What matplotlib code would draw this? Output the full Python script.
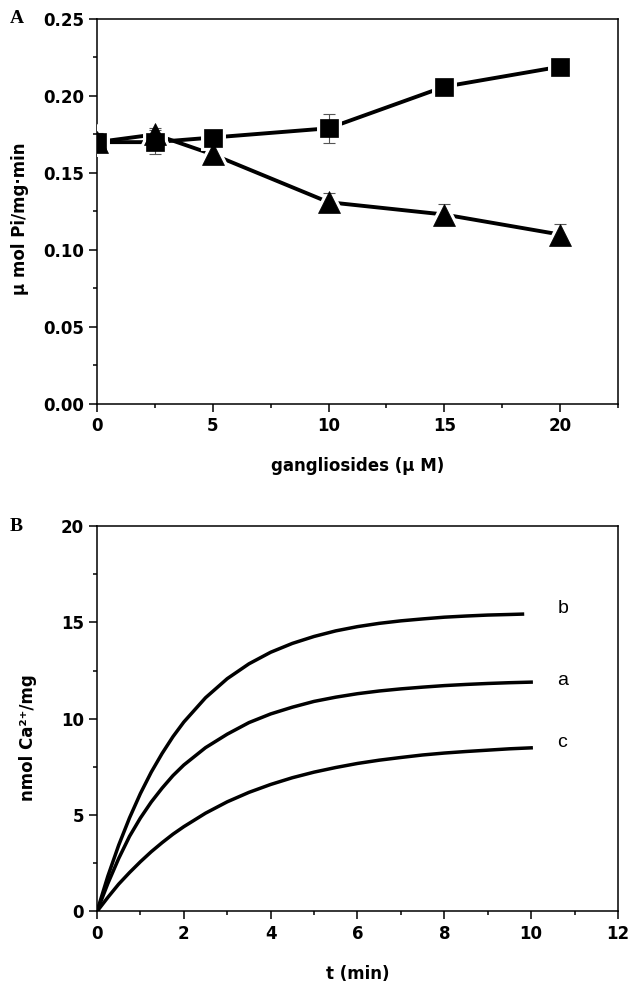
import numpy as np
import matplotlib.pyplot as plt
from matplotlib.ticker import MultipleLocator

plt.rcParams['font.family'] = ['DejaVu Sans']

# panel A: ATPase activity vs ganglioside concentration
conc = [0, 2.5, 5, 10, 15, 20]
sq_vals = [0.170, 0.170, 0.173, 0.179, 0.206, 0.219]
sq_err = [0.006, 0.008, 0.004, 0.0095, 0.003, 0.003]
tri_vals = [0.170, 0.175, 0.162, 0.131, 0.123, 0.110]
tri_err = [0.004, 0.004, 0.006, 0.006, 0.007, 0.007]

# panel B: Ca2+ uptake time courses
t_ac = [0, 0.25, 0.5, 0.75, 1, 1.25, 1.5, 1.75, 2, 2.5, 3, 3.5, 4, 4.5,
        5, 5.5, 6, 6.5, 7, 7.5, 8, 8.5, 9, 9.5, 10]
t_b = [0, 0.25, 0.5, 0.75, 1, 1.25, 1.5, 1.75, 2, 2.5, 3, 3.5, 4, 4.5,
       5, 5.5, 6, 6.5, 7, 7.5, 8, 8.5, 9, 9.5, 9.8]
ca_a = [0, 1.45, 2.75, 3.9, 4.85, 5.68, 6.4, 7.05, 7.6, 8.5, 9.2, 9.8, 10.25, 10.6,
        10.9, 11.12, 11.3, 11.44, 11.55, 11.64, 11.72, 11.78, 11.83, 11.87, 11.9]
ca_b = [0, 1.83, 3.44, 4.86, 6.12, 7.23, 8.20, 9.07, 9.83, 11.09, 12.08, 12.85, 13.45, 13.91,
        14.27, 14.56, 14.78, 14.95, 15.08, 15.18, 15.27, 15.33, 15.38, 15.41, 15.43]
ca_c = [0, 0.73, 1.42, 2.02, 2.58, 3.10, 3.57, 4.01, 4.40, 5.10, 5.69, 6.18, 6.59, 6.94,
        7.23, 7.47, 7.68, 7.85, 7.99, 8.12, 8.22, 8.30, 8.37, 8.44, 8.49]


def style_axes(ax):
    for sp in ax.spines.values():
        sp.set_linewidth(1.1)
    ax.tick_params(which='major', direction='out', length=5.5, width=1.1, pad=4,
                   labelsize=12, top=False, right=False)
    ax.tick_params(which='minor', direction='out', length=3.2, width=1.1,
                   top=False, right=False)
    for lbl in ax.get_xticklabels() + ax.get_yticklabels():
        lbl.set_fontweight('bold')


fig = plt.figure(figsize=(6.31, 9.86), dpi=100)

ax1 = fig.add_axes([0.1537, 0.5903, 0.8257, 0.3905])
ax1.plot(conc, sq_vals, '-', color='black', lw=2.8, zorder=2)
ax1.plot(conc, tri_vals, '-', color='black', lw=2.8, zorder=2)
# white halos first so the connecting lines stop short of the symbols
ax1.plot(conc, sq_vals, 's', ms=12.5, color='white', mec='white', mew=5, zorder=3)
ax1.plot(conc, tri_vals, '^', ms=15.5, color='white', mec='white', mew=5, zorder=3)
ax1.errorbar(conc, sq_vals, yerr=sq_err, fmt='none', ecolor='#555555',
             elinewidth=0.8, capsize=4, capthick=0.8, zorder=4)
ax1.errorbar(conc, tri_vals, yerr=tri_err, fmt='none', ecolor='#555555',
             elinewidth=0.8, capsize=4, capthick=0.8, zorder=4)
ax1.plot(conc, sq_vals, 's', ms=12.5, color='black', mec='black', mew=0.5, zorder=5)
ax1.plot(conc, tri_vals, '^', ms=15.5, color='black', mec='black', mew=0.5, zorder=6)
ax1.set_xlim(0, 22.5)
ax1.set_ylim(0, 0.25)
ax1.xaxis.set_major_locator(MultipleLocator(5))
ax1.xaxis.set_minor_locator(MultipleLocator(2.5))
ax1.yaxis.set_major_locator(MultipleLocator(0.05))
ax1.yaxis.set_minor_locator(MultipleLocator(0.025))
ax1.yaxis.set_major_formatter(plt.FormatStrFormatter('%.2f'))
ax1.set_xlabel('gangliosides (\u03bc M)', fontsize=12, fontweight='bold', labelpad=16)
ax1.set_ylabel('\u03bc mol Pi/mg\u00b7min', fontsize=12, fontweight='bold')
ax1.yaxis.set_label_coords(-0.13, 0.48)
style_axes(ax1)
fig.text(0.015, 0.981, 'A', family='Liberation Serif', fontsize=14,
         fontweight='bold', va='center', ha='left')

ax2 = fig.add_axes([0.1537, 0.0756, 0.8257, 0.3909])
ax2.plot(t_ac, ca_a, '-', color='black', lw=2.5)
ax2.plot(t_b, ca_b, '-', color='black', lw=2.5)
ax2.plot(t_ac, ca_c, '-', color='black', lw=2.5)
ax2.text(10.6, ca_b[-1] + 0.3, 'b', family='Liberation Sans', fontsize=14,
         va='center', ha='left')
ax2.text(10.6, ca_a[-1] + 0.1, 'a', family='Liberation Sans', fontsize=14,
         va='center', ha='left')
ax2.text(10.6, ca_c[-1] + 0.3, 'c', family='Liberation Sans', fontsize=14,
         va='center', ha='left')
ax2.set_xlim(0, 12)
ax2.set_ylim(0, 20)
ax2.xaxis.set_major_locator(MultipleLocator(2))
ax2.xaxis.set_minor_locator(MultipleLocator(1))
ax2.yaxis.set_major_locator(MultipleLocator(5))
ax2.yaxis.set_minor_locator(MultipleLocator(2.5))
ax2.set_xlabel('t (min)', fontsize=12, fontweight='bold', labelpad=16)
ax2.set_ylabel('nmol Ca\u00b2\u207a/mg', fontsize=12, fontweight='bold')
ax2.yaxis.set_label_coords(-0.115, 0.45)
style_axes(ax2)
fig.text(0.015, 0.4665, 'B', family='Liberation Serif', fontsize=14,
         fontweight='bold', va='center', ha='left')

fig.savefig('out.png', dpi=100)
